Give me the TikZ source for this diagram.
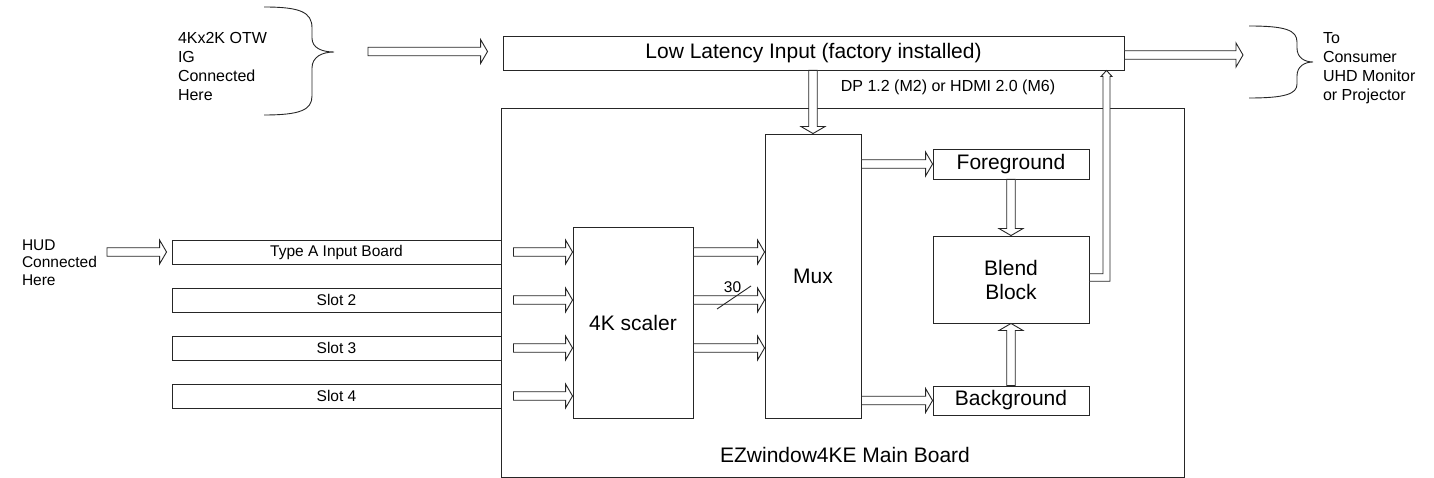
\documentclass[tikz,border=0pt]{standalone}
\usepackage{fontspec}
\setmainfont{Liberation Sans}
\usetikzlibrary{calc}
\begin{document}
\begin{tikzpicture}[x=1pt,y=-1pt,
  ln/.style={draw=black!85, line width=0.9pt},
  box/.style={ln, fill=white, rectangle, inner sep=0pt, align=center},
  big/.style={font=\fontsize{21}{24}\selectfont},
  mid/.style={font=\fontsize{16}{19}\selectfont},
  sml/.style={font=\fontsize{15.5}{17.5}\selectfont},
  plain/.style={inner sep=0pt, outer sep=0pt},
  rarrow/.style={to path={let \p1=(\tikztostart),\p2=(\tikztotarget) in
    ({\x1},{\y1+4.25pt}) -- ({\x2-7pt},{\y1+4.25pt}) -- ({\x2-7pt},{\y1+12pt}) -- ({\x2},{\y1})
    -- ({\x2-7pt},{\y1-12pt}) -- ({\x2-7pt},{\y1-4.25pt}) -- ({\x1},{\y1-4.25pt}) -- cycle}},
  darrow/.style={to path={let \p1=(\tikztostart),\p2=(\tikztotarget) in
    ({\x1-4.25pt},{\y1}) -- ({\x1-4.25pt},{\y2+7pt}) -- ({\x1-12pt},{\y2+7pt}) -- ({\x1},{\y2})
    -- ({\x1+12pt},{\y2+7pt}) -- ({\x1+4.25pt},{\y2+7pt}) -- ({\x1+4.25pt},{\y1}) -- cycle}},
  uarrow/.style={to path={let \p1=(\tikztostart),\p2=(\tikztotarget) in
    ({\x1-4.25pt},{\y1}) -- ({\x1-4.25pt},{\y2-7pt}) -- ({\x1-12pt},{\y2-7pt}) -- ({\x1},{\y2})
    -- ({\x1+12pt},{\y2-7pt}) -- ({\x1+4.25pt},{\y2-7pt}) -- ({\x1+4.25pt},{\y1}) -- cycle}},
]
\useasboundingbox (0,0) rectangle (1434,478);

% main board
\node[box, minimum width=683, minimum height=369] (main) at (842.5,292.5) {};
\node[plain, big] (mainlbl) at (845,455) {EZwindow4KE Main Board};

% low latency input
\node[box, big, minimum width=621, minimum height=34] (ll) at (813.5,53) {Low Latency Input (factory installed)};
\node[plain, mid] (dp) at (948,87) {DP 1.2 (M2) or HDMI 2.0 (M6)};

% input boards
\node[box, sml, minimum width=329, minimum height=24] (in1) at (336.5,252) {Type A Input Board};
\node[box, sml, minimum width=329, minimum height=24] (in2) at (336.5,300) {Slot 2};
\node[box, sml, minimum width=329, minimum height=24] (in3) at (336.5,348) {Slot 3};
\node[box, sml, minimum width=329, minimum height=24] (in4) at (336.5,396) {Slot 4};

% inner blocks
\node[box, big, minimum width=120, minimum height=191] (sc) at (633,322.5) {4K scaler};
\node[box, big, minimum width=96, minimum height=284] (mux) at (813,276) {Mux};
\node[box, big, minimum width=156, minimum height=30] (fg) at (1011,164) {Foreground};
\node[box, big, minimum width=156, minimum height=87] (bb) at (1011,279.5) {Blend\\Block};
\node[box, big, minimum width=156, minimum height=29] (bg) at (1011,400.5) {Background};

% side texts
\node[plain, mid, anchor=west, align=left] (otw) at (178,66.5) {4Kx2K OTW\\IG\\Connected\\Here};
\node[plain, mid, anchor=west, align=left] (cons) at (1323,68.5) {To\\Consumer\\UHD Monitor\\or Projector};
\node[plain, sml, anchor=west, align=left] (hud) at (22,262.5) {HUD\\Connected\\Here};

% braces
\coordinate (ltip) at (334,52);
\coordinate (rtip) at (1313,62);
\draw[ln] (264,7) .. controls (300,7) and (312,12) .. (312,28) -- (312,38)
  .. controls (312,48) and (322,52) .. (ltip)
  .. controls (322,52) and (312,57) .. (312,68) -- (312,96)
  .. controls (312,110) and (300,115) .. (264,115);
\draw[ln] (1249,26) .. controls (1285,26) and (1297,30) .. (1297,42) -- (1297,48)
  .. controls (1297,58) and (1305,62) .. (rtip)
  .. controls (1305,62) and (1297,66) .. (1297,76) -- (1297,84)
  .. controls (1297,94) and (1285,98) .. (1249,98);

% external arrows
\coordinate (instart) at (368,51.5);
\coordinate (outend) at (1243,55);
\coordinate (hudstart) at (107,252);
\draw[ln, fill=white] (instart) to[rarrow] ($(ll.west |- instart)+(-15,0)$);
\draw[ln, fill=white] (ll.east |- outend) to[rarrow] (outend);
\draw[ln, fill=white] (hudstart) to[rarrow] ($(in1.west)+(-5,0)$);

% input boards to scaler
\draw[ln, fill=white] ($(in1.east)+(12,0)$) to[rarrow] (in1 -| sc.west);
\draw[ln, fill=white] ($(in2.east)+(12,0)$) to[rarrow] (in2 -| sc.west);
\draw[ln, fill=white] ($(in3.east)+(12,0)$) to[rarrow] (in3 -| sc.west);
\draw[ln, fill=white] ($(in4.east)+(12,0)$) to[rarrow] (in4 -| sc.west);

% scaler to mux
\draw[ln, fill=white] (sc.east |- in1) to[rarrow] (mux.west |- in1);
\draw[ln, fill=white] (sc.east |- in2) to[rarrow] (mux.west |- in2);
\draw[ln, fill=white] (sc.east |- in3) to[rarrow] (mux.west |- in3);
\coordinate (slA) at (717,309);
\coordinate (slB) at (751,286);
\draw[ln] (slA) -- (slB);
\node[plain, sml] (thirty) at (732.5,287) {30};

% low latency to mux
\draw[ln, fill=white] (ll.south -| mux) to[darrow] (mux.north);
% mux to fg / bg
\draw[ln, fill=white] (mux.east |- fg) to[rarrow] (fg.west);
\draw[ln, fill=white] (mux.east |- bg) to[rarrow] (bg.west);
% fg/bg to blend
\draw[ln, fill=white] (fg.south) to[darrow] (bb.north);
\draw[ln, fill=white] (bg.north) to[uarrow] (bb.south);

% blend back to low latency
\coordinate (bend) at (1106.5,277.5);
\draw[ln, fill=white] let \p1=(bb.east), \p2=(bend), \p3=(ll.south) in
  (\x1,{\y2+3.75pt}) -- ({\x2-3.5pt},{\y2+3.75pt}) -- ({\x2-3.5pt},{\y3-6pt})
  -- ({\x2-5.5pt},{\y3-6pt}) -- (\x2,\y3) -- ({\x2+5.5pt},{\y3-6pt})
  -- ({\x2+3.5pt},{\y3-6pt}) -- ({\x2+3.5pt},{\y2-3.75pt}) -- (\x1,{\y2-3.75pt}) -- cycle;
\end{tikzpicture}
\end{document}
